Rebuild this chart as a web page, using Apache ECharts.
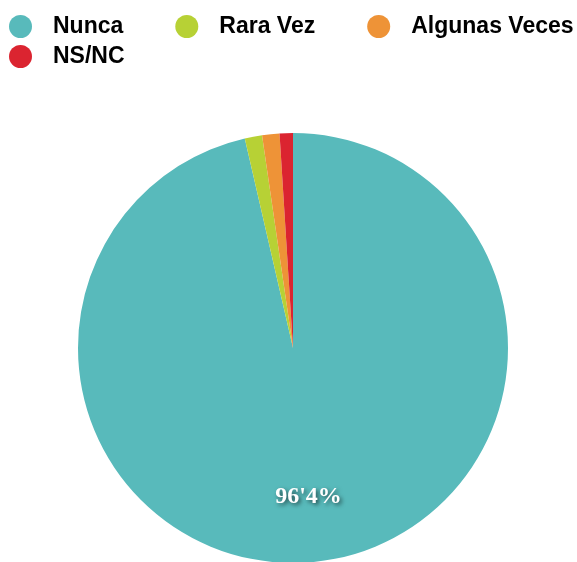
<!DOCTYPE html>
<html>
<head>
<meta charset="utf-8">
<script src="https://cdn.jsdelivr.net/npm/echarts@6/dist/echarts.min.js"></script>
<style>
  html, body { margin: 0; padding: 0; background: #fff; }
  #pie-chart { width: 577px; height: 562px; }
</style>
</head>
<body>
<div id="pie-chart"></div>
<script>
    // datos de la encuesta
    var categorias = ['Nunca', 'Rara Vez', 'Algunas Veces', 'NS/NC'];
    var valores = [96.4, 1.3, 1.3, 1.0];
    var colores = ['#58babb', '#b7d135', '#ee9337', '#db2430'];

    var myChart = echarts.init(document.getElementById('pie-chart'));

    var legendText = {
        fontFamily: '"Liberation Sans", Arial, sans-serif',
        fontWeight: 'bold',
        fontSize: 23,
        color: '#000',
        padding: [0, 0, 0, 16]
    };

    var datos = categorias.map(function (c, i) {
        return {
            name: c,
            value: valores[i],
            itemStyle: { color: colores[i] },
            label: { show: i === 0 }
        };
    });

    var option = {
        animation: false,
        legend: [
            {
                data: categorias.slice(0, 3),
                left: 9,
                top: 15,
                icon: 'circle',
                itemWidth: 23,
                itemHeight: 23,
                itemGap: 52,
                padding: 0,
                selectedMode: false,
                textStyle: legendText
            },
            {
                data: categorias.slice(3),
                left: 9,
                top: 45,
                icon: 'circle',
                itemWidth: 23,
                itemHeight: 23,
                padding: 0,
                selectedMode: false,
                textStyle: legendText
            }
        ],
        series: [
            {
                type: 'pie',
                center: [293, 348],
                radius: 215,
                startAngle: 90,
                clockwise: true,
                avoidLabelOverlap: false,
                itemStyle: { borderWidth: 0 },
                emphasis: { disabled: true },
                label: {
                    position: 'inside',
                    offset: [3, 39],
                    formatter: function (p) {
                        return String(p.value).replace('.', "'") + '%';
                    },
                    fontFamily: '"Liberation Serif", "Times New Roman", serif',
                    fontWeight: 'bold',
                    fontSize: 24,
                    color: '#fff',
                    textShadowColor: 'rgba(0,0,0,0.6)',
                    textShadowBlur: 4,
                    textShadowOffsetX: 2,
                    textShadowOffsetY: 2
                },
                labelLine: { show: false },
                data: datos
            }
        ]
    };

    myChart.setOption(option);
</script>
</body>
</html>
